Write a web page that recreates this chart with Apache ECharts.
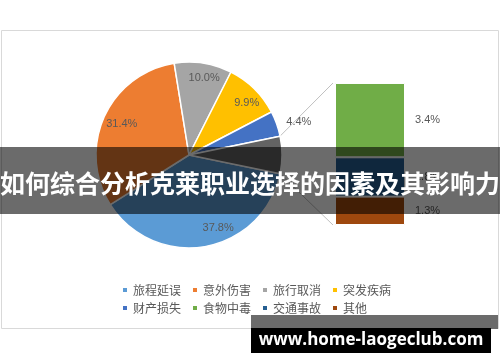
<!DOCTYPE html>
<html>
<head>
<meta charset="utf-8">
<script src="https://cdn.jsdelivr.net/npm/echarts@6/dist/echarts.min.js"></script>
<style>html,body{margin:0;padding:0;background:#fff}#c{width:500px;height:362px}</style>
</head>
<body>
<div id="c"></div>
<script>
// ---- data ----
var pieNames = ['旅程延误', '意外伤害', '旅行取消', '突发疾病', '财产损失'];
var pieValues = [37.8, 31.4, 10.0, 9.9, 4.4];
var barNames = ['食物中毒', '交通事故', '其他'];
var barValues = [3.4, 1.8, 1.3];
var pieColors = ['#5b9bd5', '#ed7d31', '#a5a5a5', '#ffc000', '#4472c4'];
var barColors = ['#70ad47', '#255e91', '#9e480e'];
var otherColor = '#636363';
var titleText = '如何综合分析克莱职业选择的因素及其影响力';
var siteText = 'www.home-laogeclub.com';

// ---- layout ----
var cx = 189, cy = 155, R = 93;
var gridL = 335, gridT = 83, gridW = 70, gridH = 142;
var labelOffsets = [[15, -5], [5, 2], [3, 1], [2, 4], [0, 0]];

var otherSum = barValues.reduce(function (a, b) { return a + b; }, 0);
var total = pieValues.reduce(function (a, b) { return a + b; }, 0) + otherSum;
var half = otherSum / total * 360 / 2;

var pieData = pieNames.map(function (n, i) {
  return { name: n, value: pieValues[i], itemStyle: { color: pieColors[i] } };
});
pieData.push({ name: '其他合计', value: Math.round(otherSum * 10) / 10, itemStyle: { color: otherColor } });

var labelData = pieData.map(function (d, i) {
  var o = { name: d.name, value: d.value };
  if (i === 4) {
    o.label = { show: true, position: 'outside' };
  } else if (i === 5) {
    o.label = { show: false };
  } else {
    o.label = { offset: labelOffsets[i] };
  }
  return o;
});

// stacked bottom-up: 其他, 交通事故, 食物中毒
var barSeries = [];
for (var k = barNames.length - 1; k >= 0; k--) {
  barSeries.push({
    type: 'bar', name: barNames[k], stack: 'o', data: [barValues[k]],
    barWidth: '100%',
    itemStyle: { color: barColors[k], borderColor: '#fff', borderWidth: 1 },
    label: { show: true, position: 'right', distance: 10, color: '#595959', fontSize: 11,
      fontFamily: 'Liberation Sans', formatter: function (p) { return p.value.toFixed(1) + '%'; } }
  });
}

var legendText = { fontSize: 12, color: '#595959', fontFamily: 'Noto Sans CJK SC' };
var chart = echarts.init(document.getElementById('c'));
var option = {
  animation: false,
  grid: { left: gridL, top: gridT, width: gridW, height: gridH },
  xAxis: { type: 'category', data: ['o'], show: false },
  yAxis: { type: 'value', min: 0, max: otherSum, show: false },
  legend: [
    { data: pieNames.slice(0, 4), left: 116, top: 279, itemWidth: 6, itemHeight: 6, itemGap: 10, icon: 'rect', textStyle: legendText },
    { data: [pieNames[4]].concat(barNames), left: 116, top: 297, itemWidth: 6, itemHeight: 6, itemGap: 10, icon: 'rect', textStyle: legendText }
  ],
  series: [
    {
      type: 'pie', name: 'pie', center: [cx, cy], radius: [0, R],
      startAngle: 360 - half, clockwise: true,
      data: pieData, label: { show: false }, labelLine: { show: false },
      itemStyle: { borderColor: '#fff', borderWidth: 1.5 }, emphasis: { disabled: true }
    },
    {
      type: 'pie', name: 'labels', center: [cx, cy], radius: [R * 0.64, R],
      startAngle: 360 - half, clockwise: true,
      data: labelData, itemStyle: { color: 'rgba(0,0,0,0)' }, legendHoverLink: false,
      label: { show: true, position: 'inside', color: '#595959', fontSize: 11, fontFamily: 'Liberation Sans',
        formatter: function (p) { return p.value.toFixed(1) + '%'; } },
      labelLine: { show: false, length: 5, length2: 0 }, emphasis: { disabled: true }, silent: true
    }
  ].concat(barSeries)
};
chart.setOption(option);

// connectors from the pie "other" slice to the bar
var pTop = chart.convertToPixel({ yAxisIndex: 0 }, otherSum);
var pBot = chart.convertToPixel({ yAxisIndex: 0 }, 0);
var rad = half * Math.PI / 180;
var ex = cx + R * Math.cos(rad), eyT = cy - R * Math.sin(rad), eyB = cy + R * Math.sin(rad);

chart.setOption({
  graphic: [
    { type: 'rect', z: 0, shape: { x: 1.5, y: 30.5, width: 497, height: 298 }, style: { fill: 'none', stroke: '#d9d9d9', lineWidth: 1 } },
    { type: 'line', z: 1, shape: { x1: ex, y1: eyT, x2: gridL - 2, y2: pTop }, style: { stroke: '#bfbfbf', lineWidth: 1 } },
    { type: 'line', z: 1, shape: { x1: ex, y1: eyB, x2: gridL - 2, y2: pBot }, style: { stroke: '#bfbfbf', lineWidth: 1 } },
    { type: 'rect', z: 100, shape: { x: 0, y: 147, width: 500, height: 67 }, style: { fill: 'rgba(0,0,0,0.58)' } },
    { type: 'text', z: 101, x: 250, y: 183, style: { text: titleText, fill: '#fff', font: 'bold 25px "Noto Sans CJK SC"', align: 'center', verticalAlign: 'middle' } },
    { type: 'rect', z: 100, shape: { x: 251, y: 315, width: 247, height: 14 }, style: { fill: '#6b6b6b' } },
    { type: 'rect', z: 100, shape: { x: 251, y: 328, width: 240, height: 25 }, style: { fill: '#000' } },
    { type: 'text', z: 101, x: 371, y: 340, style: { text: siteText, fill: '#fff', font: 'bold 17px "Open Sans"', align: 'center', verticalAlign: 'middle' } }
  ]
});
</script>
</body>
</html>
